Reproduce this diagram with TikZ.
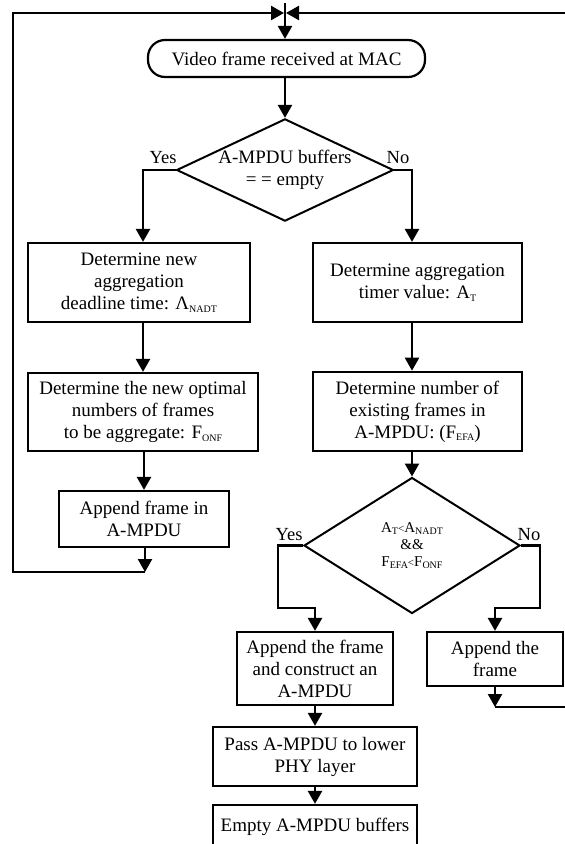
\documentclass[tikz,border=0pt]{standalone}
\usepackage{fontspec}
\setmainfont{Liberation Serif}
\usetikzlibrary{arrows.meta,shapes.geometric}
\newcommand\sbx[1]{\raisebox{-2.5pt}{\fontsize{10}{10}\selectfont #1}}
\newcommand\smlt{{\fontsize{11}{11}\selectfont <}}
\begin{document}
\begin{tikzpicture}[x=1pt,y=-1pt,
  box/.style={draw, line width=2.2pt, align=center, inner sep=0pt, font=\fontsize{19}{22}\selectfont},
  dia/.style={draw, diamond, line width=2pt, align=center, inner sep=0pt},
  conn/.style={line width=2.4pt},
  arr/.style={conn, -{Triangle[width=14pt,length=13pt]}},
  lbl/.style={font=\fontsize{18.5}{20}\selectfont, inner sep=0pt}]
\useasboundingbox (0,0) rectangle (565,844);
% nodes
\node[box, rounded corners=17pt, minimum width=277pt, minimum height=37pt] (start) at (286.5,58.5) {Video frame received at MAC};
\node[dia, minimum width=212pt, minimum height=100pt, aspect=2.12, font=\fontsize{19}{22}\selectfont] (d1) at (285,170) {A-MPDU buffers\\= = empty};
\node[box, minimum width=222pt, minimum height=79pt] (b1) at (139,282.5) {Determine new\\aggregation\\deadline time: Λ\sbx{NADT}};
\node[box, minimum width=230pt, minimum height=78pt] (b2) at (143,412) {Determine the new optimal\\numbers of frames\\to be aggregate: F\sbx{ONF}};
\node[box, minimum width=170pt, minimum height=56pt] (b3) at (144,519) {Append frame in\\A-MPDU};
\node[box, minimum width=209pt, minimum height=79pt] (r1) at (417.5,282.5) {Determine aggregation\\timer value: A\sbx{T}};
\node[box, line width=2.6pt, minimum width=209pt, minimum height=79pt] (r2) at (417.5,411.5) {Determine number of\\existing frames in\\A-MPDU: (F\sbx{EFA})};
\node[dia, minimum width=216pt, minimum height=136pt, aspect=1.59, font=\fontsize{15}{17}\selectfont] (d2) at (412,545.5) {A\sbx{T}\smlt A\sbx{NADT}\\\&\&\\F\sbx{EFA}\smlt F\sbx{ONF}};
\node[box, minimum width=156pt, minimum height=73pt] (y1) at (315,668.5) {Append the frame\\and construct an\\A-MPDU};
\node[box, minimum width=136pt, minimum height=54pt] (n1) at (495,659) {Append the\\frame};
\node[box, minimum width=204pt, minimum height=59pt] (p1) at (315,756.5) {Pass A-MPDU to lower\\PHY layer};
\node[box, minimum width=204pt, minimum height=44pt] (e1) at (315,827) {Empty A-MPDU buffers};
% labels
\node[lbl] (ly1) at (163,158) {Yes};
\node[lbl] (ln1) at (398,158) {No};
\node[lbl] (ly2) at (289,535) {Yes};
\node[lbl] (ln2) at (529,535) {No};
% coordinates
\coordinate (m) at (285,13);
\coordinate (mtop) at (285,3);
\coordinate (ml) at (284,13);
\coordinate (mr) at (286,13);
\coordinate (tl) at (13,13);
\coordinate (bl) at (13,572);
\coordinate (lp) at (145,572);
\coordinate (cR) at (412,0);
\coordinate (yA) at (278,608);
\coordinate (nA) at (540,608);
\coordinate (rb) at (567,707);
\coordinate (rt) at (567,13);
% connectors
\draw[arr] (mtop) -- (start.north -| m);
\draw[arr] (start.south -| m) -- (d1.north);
\draw[arr] (d1.west) -| (b2.north |- b1.north);
\draw[arr] (d1.east) -| (r1.north -| cR);
\draw[arr] (b2.north |- b1.south) -- (b2.north);
\draw[arr] (b3.north |- b2.south) -- (b3.north);
\draw[arr] (b3.south -| lp) -- (lp);
\draw[arr] (lp) -- (bl) -- (tl) -- (ml);
\draw[arr] (r1.south -| cR) -- (r2.north -| cR);
\draw[arr] (r2.south -| cR) -- (d2.north);
\draw[arr] (d2.west) -| (yA) -| (y1.north);
\draw[arr] (d2.east) -| (nA) -| (n1.north);
\draw[arr] (n1.south) -- (n1.south |- rb);
\draw[arr] (n1.south |- rb) -- (rb) -- (rt) -- (mr);
\draw[arr] (y1.south) -- (p1.north);
\draw[arr] (p1.south) -- (e1.north);
\end{tikzpicture}
\end{document}
